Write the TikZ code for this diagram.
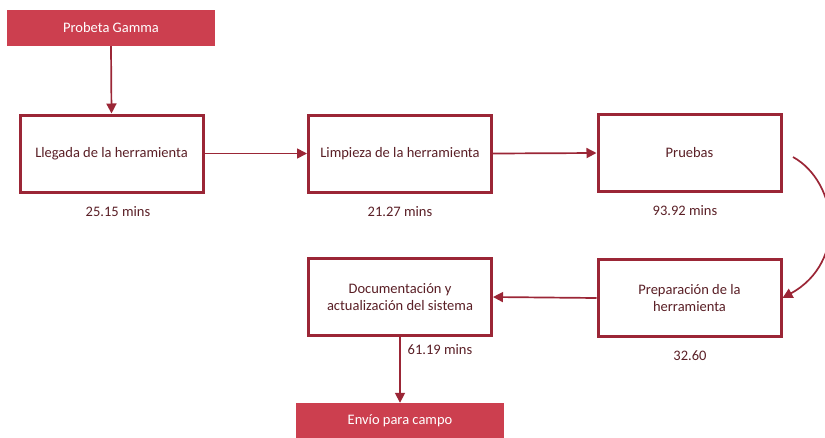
\documentclass[tikz,border=0pt]{standalone}
\usepackage{fontspec}
\setmainfont{Carlito}
\usetikzlibrary{arrows.meta}
\definecolor{wine}{HTML}{9B2636}
\definecolor{rosered}{HTML}{CC3F4F}
\definecolor{labeltext}{HTML}{5A1F26}
\begin{document}
\begin{tikzpicture}[x=1pt,y=-1pt,
  every node/.style={font=\fontsize{14.5}{17}\selectfont},
  endbox/.style={rectangle,fill=rosered,text=white,minimum width=208pt,minimum height=36pt,inner sep=0pt},
  procbox/.style={rectangle,draw=wine,line width=3pt,fill=white,text=labeltext,minimum width=183pt,minimum height=77pt,align=center,inner sep=2pt},
  timelabel/.style={text=labeltext,inner sep=0pt},
  flow/.style={draw=wine,line width=1.7pt,-{Triangle[length=10pt,width=10pt]}}]
  \useasboundingbox (0,0) rectangle (825,437);
  % terminal boxes
  \node[endbox] (start) at (111,28) {Probeta Gamma};
  \node[endbox] (ship) at (400,421) {Envío para campo};
  % process steps
  \node[procbox] (s1) at (111.5,153.5) {Llegada de la herramienta};
  \node[procbox] (s2) at (400,153.5) {Limpieza de la herramienta};
  \node[procbox] (s3) at (689.5,153) {Pruebas};
  \node[procbox] (s4) at (689.5,298) {Preparación de la\\herramienta};
  \node[procbox] (s5) at (400,297) {Documentación y\\actualización del sistema};
  % durations
  \node[timelabel] (t1) at (118,212) {25.15 mins};
  \node[timelabel] (t2) at (400,212) {21.27 mins};
  \node[timelabel] (t3) at (685,211) {93.92 mins};
  \node[timelabel] (t4) at (690,356) {32.60};
  \node[timelabel] (t5) at (440,350) {61.19 mins};
  % connectors
  \coordinate (arcstart) at (793,157);
  \draw[flow] (start.south) -- (s1.north);
  \draw[flow] (s1.east) -- (s2.west);
  \draw[flow] (s2.east) -- (s3.west);
  \draw[flow] (arcstart) .. controls (838,182) and (848,262) .. (s4.east);
  \draw[flow] (s4.west) -- (s5.east);
  \draw[flow] (s5.south) -- (ship.north);
\end{tikzpicture}
\end{document}
